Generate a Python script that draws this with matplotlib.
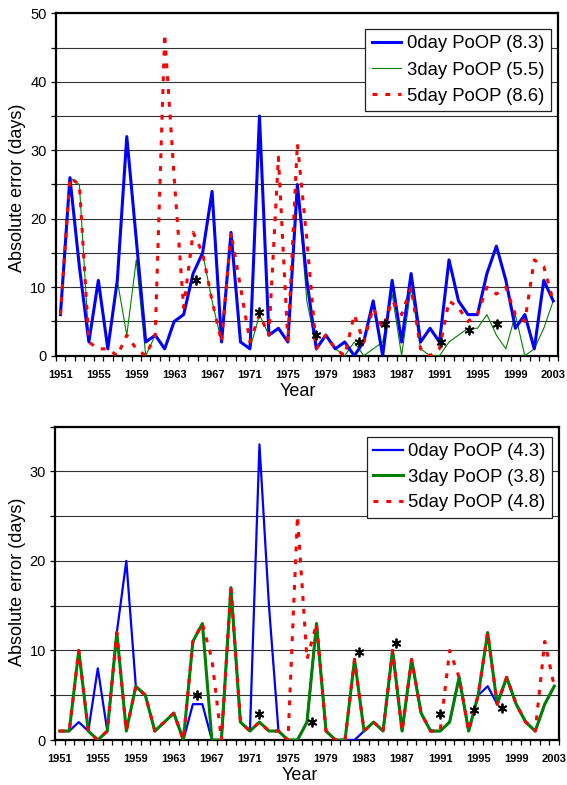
import matplotlib
matplotlib.use("Agg")
import matplotlib.pyplot as plt
from matplotlib.ticker import MultipleLocator, FixedLocator
import numpy as np

plt.rcParams['font.family'] = ['Liberation Sans', 'DejaVu Sans']

years = list(range(1951, 2004))
tick_years = list(range(1951, 2004, 4))

# ---------- top panel ----------
top_0day = [6, 26, 13, 2, 11, 1, 11, 32, 17, 2, 3, 1, 5, 6, 12, 15, 24, 2, 18, 2,
            1, 35, 3, 4, 2, 25, 11, 1, 3, 1, 2, 0, 2, 8, 0, 11, 2, 12, 2, 4,
            2, 14, 8, 6, 6, 12, 16, 11, 4, 6, 1, 11, 8]
top_3day = [6, 26, 25, 2, 11, 1, 11, 3, 14, 0, 3, 1, 5, 6, 12, 15, 8, 2, 18, 2,
            1, 6, 3, 4, 2, 25, 8, 1, 3, 1, 0, 2, 0, 1, 2, 9, 0, 10, 1, 0,
            0, 2, 3, 4, 4, 6, 3, 1, 6, 0, 1, 4, 8]
top_5day = [6, 26, 25, 2, 1, 1, 0, 3, 1, 0, 3, 47, 26, 7, 18, 15, 8, 2, 18, 10,
            2, 6, 3, 29, 2, 31, 17, 1, 3, 1, 0, 6, 2, 7, 4, 8, 6, 10, 1, 0,
            1, 8, 7, 5, 6, 10, 9, 10, 6, 5, 14, 13, 8]
top_labels = ["0day PoOP (8.3)", "3day PoOP (5.5)", "5day PoOP (8.6)"]
top_star_x = [1965.3, 1972.0, 1978.0, 1982.5, 1985.2, 1991.2, 1994.1, 1997.1]
top_star_y = [11, 6.4, 3, 2, 4.6, 2, 3.8, 4.6]

# ---------- bottom panel ----------
bot_0day = [1, 1, 2, 1, 8, 1, 12, 20, 6, 5, 1, 2, 3, 0, 4, 4, 0, 0, 17, 2,
            1, 33, 15, 1, 0, 0, 2, 13, 1, 0, 0, 0, 1, 2, 1, 10, 1, 9, 3, 1,
            1, 2, 7, 1, 5, 6, 4, 7, 4, 2, 1, 4, 6]
bot_3day = [1, 1, 10, 1, 0, 1, 12, 1, 6, 5, 1, 2, 3, 0, 11, 13, 0, 0, 17, 2,
            1, 2, 1, 1, 0, 0, 2, 13, 1, 0, 0, 9, 1, 2, 1, 10, 1, 9, 3, 1,
            1, 2, 7, 1, 5, 12, 4, 7, 4, 2, 1, 4, 6]
bot_5day = [1, 1, 10, 1, 0, 1, 12, 1, 6, 5, 1, 2, 3, 0, 11, 13, 9, 0, 17, 2,
            1, 2, 1, 1, 0, 25, 9, 13, 1, 0, 0, 9, 1, 2, 1, 10, 1, 9, 3, 1,
            1, 10, 7, 1, 5, 12, 4, 7, 4, 2, 1, 11, 6]
bot_labels = ["0day PoOP (4.3)", "3day PoOP (3.8)", "5day PoOP (4.8)"]
bot_star_x = [1965.4, 1972.0, 1977.5, 1982.5, 1986.4, 1991.0, 1994.6, 1997.5]
bot_star_y = [5, 2.9, 2, 9.8, 10.8, 2.9, 3.3, 3.6]

W, H = 567, 785
fig = plt.figure(figsize=(W / 100, H / 100), dpi=100)


def px_axes(l, r, t, b):
    return fig.add_axes([l / W, 1 - b / H, (r - l) / W, (b - t) / H])


def style_axes(ax, ymax):
    ax.set_xlim(1950.5, 2003.5)
    ax.set_ylim(0, ymax)
    ax.xaxis.set_major_locator(FixedLocator(tick_years))
    ax.set_xticklabels([str(y) for y in tick_years], fontsize=8, fontweight='bold')
    ax.xaxis.set_minor_locator(FixedLocator([1950.5 + k for k in range(54)]))
    ax.tick_params(axis='x', which='major', length=0, pad=10)
    ax.tick_params(axis='x', which='minor', length=3.6, width=0.9, direction='out')
    ax.yaxis.set_major_locator(MultipleLocator(10))
    ax.yaxis.set_minor_locator(MultipleLocator(5))
    ax.tick_params(axis='y', which='both', length=3.6, width=0.9, direction='out',
                   labelsize=10.5, pad=3)
    ax.grid(True, axis='y', which='both', color='#333333', linewidth=0.8)
    ax.set_axisbelow(True)
    for s in ax.spines.values():
        s.set_linewidth(1.6)
        s.set_color('black')


# top panel
ax1 = px_axes(55.7, 558, 13.3, 355.7)
style_axes(ax1, 50)
ax1.plot(years, top_3day, color='#008000', lw=0.8, zorder=3, label=top_labels[1])
ax1.plot(years, top_0day, color='#0000FF', lw=2.2, zorder=4, label=top_labels[0])
ax1.plot(years, top_5day, color='#FF0000', lw=2.2, zorder=5, dashes=(1.6, 2.6),
         label=top_labels[2])
ax1.plot(top_star_x, top_star_y, linestyle='none', marker=(6, 2, 0), ms=7,
         mew=1.3, color='black', zorder=6)
h, l = ax1.get_legend_handles_labels()
order = [1, 0, 2]
leg1 = ax1.legend([h[i] for i in order], [l[i] for i in order],
                  loc='upper right', bbox_to_anchor=(551 / W, 1 - 29 / H),
                  bbox_transform=fig.transFigure, fontsize=13.3, frameon=True,
                  fancybox=False, framealpha=1, edgecolor='#222222',
                  handlelength=1.6, handletextpad=0.3, labelspacing=0.5,
                  borderpad=0.35, borderaxespad=0)
leg1.get_frame().set_linewidth(0.9)
leg1.set_zorder(10)

# bottom panel
ax2 = px_axes(55, 559, 426.5, 740)
style_axes(ax2, 35)
ax2.plot(years, bot_0day, color='#0000FF', lw=1.6, zorder=3, label=bot_labels[0])
ax2.plot(years, bot_3day, color='#008000', lw=2.2, zorder=4, label=bot_labels[1])
ax2.plot(years, bot_5day, color='#FF0000', lw=2.2, zorder=5, dashes=(1.6, 2.6),
         label=bot_labels[2])
ax2.plot(bot_star_x, bot_star_y, linestyle='none', marker=(6, 2, 0), ms=7,
         mew=1.3, color='black', zorder=6)
leg2 = ax2.legend(loc='upper right', bbox_to_anchor=(552 / W, 1 - 437 / H),
                  bbox_transform=fig.transFigure, fontsize=13.3, frameon=True,
                  fancybox=False, framealpha=1, edgecolor='#222222',
                  handlelength=1.6, handletextpad=0.3, labelspacing=0.45,
                  borderpad=0.35, borderaxespad=0)
leg2.get_frame().set_linewidth(0.9)
leg2.set_zorder(10)

# axis titles
fig.text(18 / W, 1 - 188 / H, "Absolute error (days)", rotation=90,
         ha='center', va='center', fontsize=13)
fig.text(18 / W, 1 - 582 / H, "Absolute error (days)", rotation=90,
         ha='center', va='center', fontsize=13)
fig.text(298 / W, 1 - 392 / H, "Year", ha='center', va='center', fontsize=13)
fig.text(300 / W, 1 - 775 / H, "Year", ha='center', va='center', fontsize=13)

fig.savefig("out.png", dpi=100)
